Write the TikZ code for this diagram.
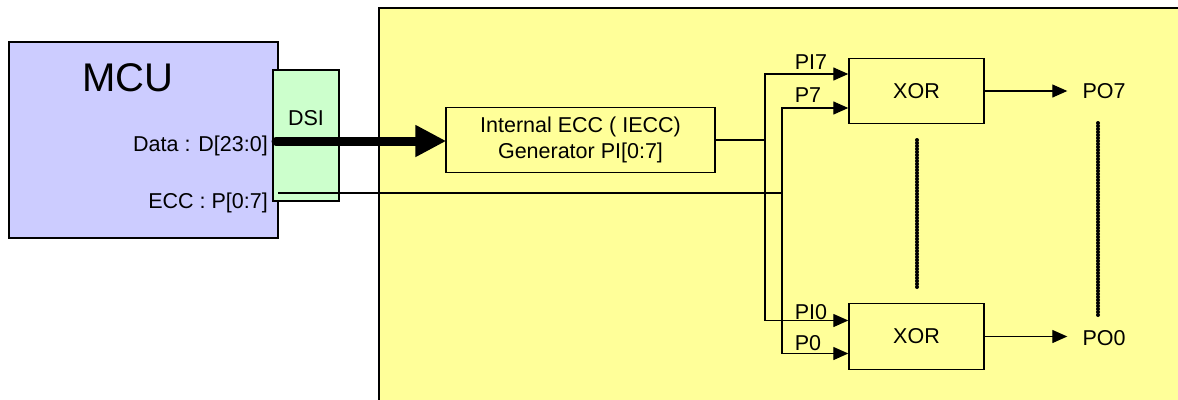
\documentclass[tikz,border=0pt]{standalone}
\usepackage{fontspec}
\setmainfont{Liberation Sans}
\usetikzlibrary{arrows.meta}
\definecolor{mcublue}{HTML}{CCCCFF}
\definecolor{dsigreen}{HTML}{CCFFCC}
\definecolor{boardyellow}{HTML}{FFFF99}
\begin{document}
\begin{tikzpicture}[x=1pt,y=-1pt,
  txt/.style={inner sep=0pt,font=\fontsize{21.5}{25}\selectfont},
  blockbox/.style={draw=black,line width=1.4pt,fill=boardyellow,inner sep=0pt,
    font=\fontsize{21.5}{25}\selectfont,align=center},
  wire/.style={line width=1.3pt},
  arr/.style={line width=1.3pt,-{Triangle[length=15pt,width=13pt]}},
  dotline/.style={line width=4pt,line cap=round,dash pattern=on 0pt off 3pt}]
\useasboundingbox (0,0) rectangle (1178,399);
\clip (0,0) rectangle (1178,399);
% big yellow board
\fill[boardyellow,draw=black,line width=1.6pt] (379,8) rectangle (1200,420);
% MCU
\node[draw=black,line width=1.4pt,fill=mcublue,minimum width=269pt,minimum height=196pt,inner sep=0pt] (mcu) at (143.5,140) {};
\node[inner sep=0pt,font=\fontsize{40}{46}\selectfont] (mcutxt) at (128,78) {MCU};
% DSI
\node[draw=black,line width=1.2pt,fill=dsigreen,minimum width=66pt,minimum height=131pt,inner sep=0pt] (dsi) at (306,135.5) {};
\node[txt] (dsitxt) at (306,118) {DSI};
\node[txt,anchor=east] (datatxt) at (268,146) {Data : D[23:0]};
\node[txt,anchor=east] (ecctxt) at (268,203) {ECC : P[0:7]};
% IECC generator
\node[blockbox,minimum width=269pt,minimum height=65pt] (iecc) at (580.5,140)
  {Internal ECC ( IECC)\\[1pt]Generator PI[0:7]};
% XOR gates
\node[blockbox,minimum width=135pt,minimum height=65pt] (xor7) at (916.5,91) {XOR};
\node[blockbox,minimum width=135pt,minimum height=66pt] (xor0) at (916.5,336.5) {XOR};
% outputs
\node[txt] (po7) at (1104,91) {PO7};
\node[txt] (po0) at (1104,338) {PO0};
% connectors
\coordinate (dstart) at (276,141);
\coordinate (estart) at (278,193);
\coordinate (pij) at (765,140);
\coordinate (pj) at (782,193);
\draw[line width=9pt,line cap=round,-{Triangle[length=31pt,width=30pt]}] (dstart) -- ([xshift=1pt]iecc.west |- dstart);
\draw[wire] (estart) -- (pj);
\draw[wire] (iecc.east) -- (pij);
\draw[arr] (pij) |- ([yshift=17pt]xor7.west);
\draw[arr] (pij) |- ([yshift=16pt]xor0.west);
\draw[arr] (pj) |- ([yshift=-17pt]xor7.west);
\draw[arr] (pj) |- ([yshift=-17pt]xor0.west);
\draw[arr] (xor7.east) -- ([xshift=-15pt]po7.west |- xor7.east);
\draw[arr] (xor0.east) -- ([xshift=-15pt]po0.west |- xor0.east);
% input labels
\node[txt] (lpi7) at (811,62) {PI7};
\node[txt] (lp7) at (808,95) {P7};
\node[txt] (lpi0) at (811,312) {PI0};
\node[txt] (lp0) at (808,343) {P0};
% dotted continuation lines
\coordinate (d1a) at (917,140);
\coordinate (d1b) at (917,287);
\coordinate (d2a) at (1098,123);
\coordinate (d2b) at (1098,316);
\draw[dotline] (d1a) -- (d1b);
\draw[dotline] (d2a) -- (d2b);
\end{tikzpicture}
\end{document}
